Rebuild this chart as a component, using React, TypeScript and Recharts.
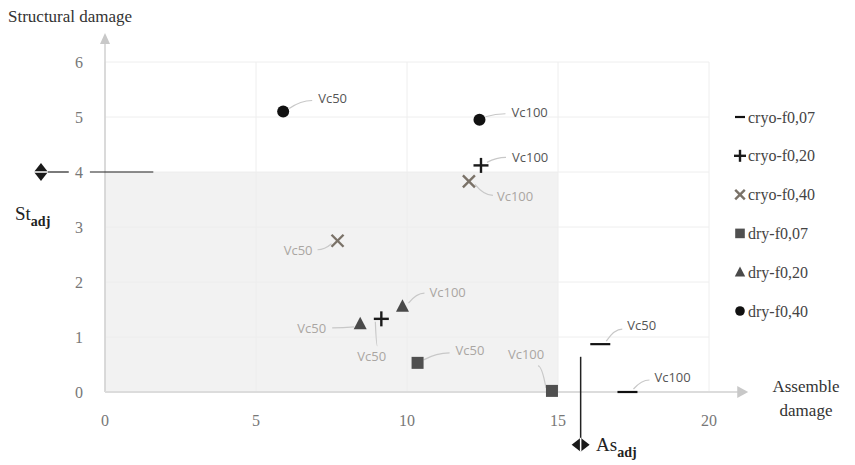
import React from "react";
import {
  ScatterChart,
  Scatter,
  XAxis,
  YAxis,
  CartesianGrid,
  ReferenceArea,
  ReferenceLine,
  ReferenceDot,
} from "recharts";

// point order in every series: [Vc50, Vc100]
const velocities = ["Vc50", "Vc100"];
const seriesNames = ["cryo-f0,07", "cryo-f0,20", "cryo-f0,40", "dry-f0,07", "dry-f0,20", "dry-f0,40"];

const cryoF007: [number, number][] = [[16.4, 0.87], [17.3, 0]];
const cryoF020: [number, number][] = [[9.15, 1.33], [12.45, 4.12]];
const cryoF040: [number, number][] = [[7.7, 2.75], [12.05, 3.83]];
const dryF007: [number, number][] = [[10.35, 0.53], [14.8, 0.02]];
const dryF020: [number, number][] = [[8.45, 1.24], [9.85, 1.56]];
const dryF040: [number, number][] = [[5.9, 5.1], [12.4, 4.95]];

const xTicks = [0, 5, 10, 15, 20];
const yTicks = [0, 1, 2, 3, 4, 5, 6];

const stAdj = 4;
const asAdj = 15.75;

// label placement relative to the marker (pixels): text anchor + leader end
type Place = { tx: number; ty: number; anchor: "start" | "end"; lx: number; ly: number; light: boolean };
const PLACES: Record<string, Place[]> = {
  "cryo-f0,07": [
    { tx: 27, ty: -19, anchor: "start", lx: 22, ly: -15, light: false },
    { tx: 27, ty: -15, anchor: "start", lx: 22, ly: -12, light: false },
  ],
  "cryo-f0,20": [
    { tx: -24, ty: 38, anchor: "start", lx: -4, ly: 27, light: true },
    { tx: 31, ty: -8, anchor: "start", lx: 25, ly: -8, light: false },
  ],
  "cryo-f0,40": [
    { tx: -25, ty: 10, anchor: "end", lx: -20, ly: 9, light: true },
    { tx: 28, ty: 15, anchor: "start", lx: 24, ly: 14, light: true },
  ],
  "dry-f0,07": [
    { tx: 38, ty: -12, anchor: "start", lx: 32, ly: -10, light: true },
    { tx: -44, ty: -36, anchor: "start", lx: -14, ly: -25, light: true },
  ],
  "dry-f0,20": [
    { tx: -34, ty: 5, anchor: "end", lx: -28, ly: 4, light: true },
    { tx: 27, ty: -14, anchor: "start", lx: 22, ly: -13, light: true },
  ],
  "dry-f0,40": [
    { tx: 35, ty: -13, anchor: "start", lx: 29, ly: -11, light: false },
    { tx: 32, ty: -7, anchor: "start", lx: 26, ly: -6, light: false },
  ],
};

const toPoints = (name: string, arr: [number, number][]) =>
  arr.map(([x, y], i) => ({ x, y, label: velocities[i], series: name, idx: i }));

const SERIES = [
  { name: seriesNames[0], data: toPoints(seriesNames[0], cryoF007) },
  { name: seriesNames[1], data: toPoints(seriesNames[1], cryoF020) },
  { name: seriesNames[2], data: toPoints(seriesNames[2], cryoF040) },
  { name: seriesNames[3], data: toPoints(seriesNames[3], dryF007) },
  { name: seriesNames[4], data: toPoints(seriesNames[4], dryF020) },
  { name: seriesNames[5], data: toPoints(seriesNames[5], dryF040) },
];

const SERIF = "'Liberation Serif', 'DejaVu Serif', serif";
const SANS = "'Open Sans', 'Liberation Sans', sans-serif";

function Glyph({ kind, cx, cy, s }: { kind: string; cx: number; cy: number; s: number }) {
  switch (kind) {
    case "cryo-f0,07":
      return <line x1={cx - s} x2={cx + s} y1={cy} y2={cy} stroke="#111" strokeWidth={2.2} />;
    case "cryo-f0,20":
      return (
        <g stroke="#1a1a1a" strokeWidth={2.4}>
          <line x1={cx - s * 0.75} x2={cx + s * 0.75} y1={cy} y2={cy} />
          <line x1={cx} x2={cx} y1={cy - s * 0.75} y2={cy + s * 0.75} />
        </g>
      );
    case "cryo-f0,40":
      return (
        <g stroke="#7a7268" strokeWidth={2.4}>
          <line x1={cx - s * 0.6} x2={cx + s * 0.6} y1={cy - s * 0.6} y2={cy + s * 0.6} />
          <line x1={cx - s * 0.6} x2={cx + s * 0.6} y1={cy + s * 0.6} y2={cy - s * 0.6} />
        </g>
      );
    case "dry-f0,07":
      return <rect x={cx - s * 0.6} y={cy - s * 0.6} width={s * 1.2} height={s * 1.2} fill="#505050" />;
    case "dry-f0,20":
      return (
        <polygon
          points={`${cx},${cy - s * 0.7} ${cx - s * 0.65},${cy + s * 0.55} ${cx + s * 0.65},${cy + s * 0.55}`}
          fill="#4a4a4a"
        />
      );
    default:
      return <circle cx={cx} cy={cy} r={s * 0.6} fill="#111" />;
  }
}

const PointShape = (props: any) => {
  const { cx, cy, payload } = props;
  if (cx == null || cy == null) return null;
  const p = PLACES[payload.series][payload.idx];
  const sx = p.lx > 0 ? 6 : p.lx < 0 ? -6 : 0;
  const sy = p.ly > 0 ? 6 : -6;
  const mx = (sx + p.lx) / 2;
  const my = p.ly;
  return (
    <g>
      <path
        d={`M${cx + sx},${cy + sy * 0.5} Q${cx + mx},${cy + my} ${cx + p.lx},${cy + p.ly}`}
        stroke="#c8c8c8"
        strokeWidth={1.2}
        fill="none"
      />
      <Glyph kind={payload.series} cx={cx} cy={cy} s={10} />
      <text
        x={cx + p.tx}
        y={cy + p.ty}
        dy="0.35em"
        textAnchor={p.anchor}
        style={{ fontFamily: SANS, fontSize: 13 }}
        fill={p.light ? "#aaa6a2" : "#555"}
      >
        {payload.label}
      </text>
    </g>
  );
};

const YTick = ({ x, y, payload }: any) => (
  <text x={x - 14} y={y} dy="0.35em" textAnchor="end" style={{ fontFamily: SERIF, fontSize: 16 }} fill="#777">
    {payload.value}
  </text>
);

const XTick = ({ x, y, payload }: any) => (
  <text x={x} y={y + 20} dy="0.35em" textAnchor="middle" style={{ fontFamily: SERIF, fontSize: 16 }} fill="#777">
    {payload.value}
  </text>
);

const VDiamond = ({ cx, cy }: any) => (
  <g>
    <polygon points={`${cx},${cy - 9} ${cx - 7},${cy} ${cx},${cy + 9} ${cx + 7},${cy}`} fill="#1a1a1a" />
    <line x1={cx - 7} x2={cx + 7} y1={cy} y2={cy} stroke="#fff" strokeWidth={1.5} />
  </g>
);

const HDiamond = ({ cx, cy }: any) => (
  <g>
    <polygon points={`${cx - 9},${cy} ${cx},${cy - 7} ${cx + 9},${cy} ${cx},${cy + 7}`} fill="#1a1a1a" />
    <line x1={cx} x2={cx} y1={cy - 7} y2={cy + 7} stroke="#fff" strokeWidth={1.5} />
  </g>
);

const ArrowUp = ({ cx, cy }: any) => (
  <polygon points={`${cx},${cy - 6} ${cx - 5},${cy + 5} ${cx + 5},${cy + 5}`} fill="#c8c8c8" />
);
const ArrowRight = ({ cx, cy }: any) => (
  <polygon points={`${cx + 6},${cy} ${cx - 5},${cy - 6} ${cx - 5},${cy + 6}`} fill="#c8c8c8" />
);

export default function App() {
  return (
    <div style={{ position: "absolute", left: 0, top: 0, width: 855, height: 465, background: "#fff" }}>
      <ScatterChart width={855} height={465} margin={{ top: 62, right: 146, bottom: 43, left: 75 }}>
        <ReferenceArea x1={0} x2={15} y1={0} y2={stAdj} fill="#ededed" fillOpacity={0.7} stroke="none" />
        <CartesianGrid stroke="#eeeeee" />
        <XAxis
          type="number"
          dataKey="x"
          domain={[0, 20]}
          ticks={xTicks}
          axisLine={false}
          tickLine={false}
          tick={<XTick />}
          height={30}
        />
        <YAxis
          type="number"
          dataKey="y"
          domain={[0, 6]}
          ticks={yTicks}
          axisLine={false}
          tickLine={false}
          tick={<YTick />}
          width={30}
        />
        {/* axis arrows */}
        <ReferenceLine segment={[{ x: 0, y: 0 }, { x: 0, y: 6.35 }]} stroke="#d0d0d0" strokeWidth={1.5} ifOverflow="visible" />
        <ReferenceLine segment={[{ x: 0, y: 0 }, { x: 21, y: 0 }]} stroke="#dcdcdc" strokeWidth={2} ifOverflow="visible" />
        <ReferenceDot x={0} y={6.42} ifOverflow="visible" shape={<ArrowUp />} />
        <ReferenceDot x={21.1} y={0} ifOverflow="visible" shape={<ArrowRight />} />
        {/* St_adj marker */}
        <ReferenceLine segment={[{ x: -2.1, y: stAdj }, { x: -1.2, y: stAdj }]} stroke="#222" strokeWidth={1.2} ifOverflow="visible" />
        <ReferenceLine segment={[{ x: -0.5, y: stAdj }, { x: 1.6, y: stAdj }]} stroke="#222" strokeWidth={1.2} ifOverflow="visible" />
        <ReferenceDot x={-2.12} y={stAdj} ifOverflow="visible" shape={<VDiamond />} />
        {/* As_adj marker */}
        <ReferenceLine segment={[{ x: asAdj, y: 0.64 }, { x: asAdj, y: -0.95 }]} stroke="#222" strokeWidth={1.5} ifOverflow="visible" />
        <ReferenceDot x={asAdj} y={-0.96} ifOverflow="visible" shape={<HDiamond />} />
        {SERIES.map((s) => (
          <Scatter key={s.name} name={s.name} data={s.data} shape={<PointShape />} isAnimationActive={false} />
        ))}
      </ScatterChart>
      <svg width={855} height={465} style={{ position: "absolute", left: 0, top: 0, pointerEvents: "none" }}>
        <text x={8} y={22} style={{ fontFamily: SERIF, fontSize: 17 }} fill="#333">Structural damage</text>
        <text x={806} y={392} textAnchor="middle" style={{ fontFamily: SERIF, fontSize: 17 }} fill="#333">Assemble</text>
        <text x={806} y={416} textAnchor="middle" style={{ fontFamily: SERIF, fontSize: 17 }} fill="#333">damage</text>
        <text x={15} y={220} style={{ fontFamily: SERIF, fontSize: 19 }} fill="#222">
          St<tspan style={{ fontSize: 14, fontWeight: "bold" }} dy={6}>adj</tspan>
        </text>
        <text x={596} y={451} style={{ fontFamily: SERIF, fontSize: 19 }} fill="#222">
          As<tspan style={{ fontSize: 14, fontWeight: "bold" }} dy={6}>adj</tspan>
        </text>
        {seriesNames.map((n, i) => (
          <g key={n}>
            <Glyph kind={n} cx={740} cy={117 + i * 38.8} s={n === "cryo-f0,07" ? 5 : 8} />
            <text x={748} y={117 + i * 38.8} dy="0.35em" style={{ fontFamily: SERIF, fontSize: 16 }} fill="#444">
              {n}
            </text>
          </g>
        ))}
      </svg>
    </div>
  );
}
